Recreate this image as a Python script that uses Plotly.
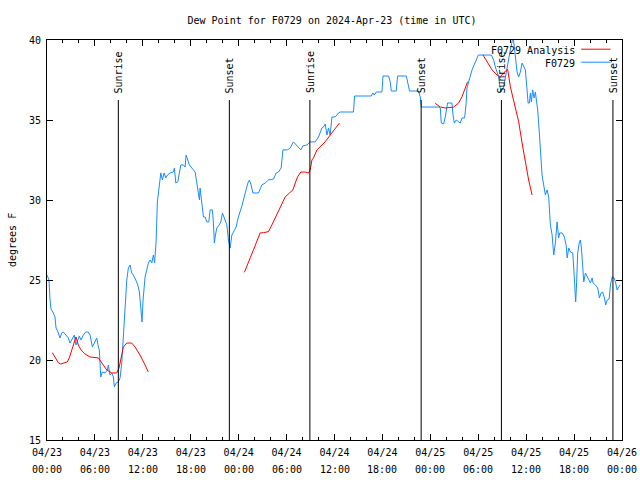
import pandas as pd
import plotly.graph_objects as go

START = pd.Timestamp("2024-04-23 00:00")

# F0729 observations: hours since 04/23 00:00 UTC, dew point (F)
obs_hours = [0.0, 0.25, 0.38, 0.5, 0.79, 1.0, 1.13, 1.38, 1.63, 1.84, 2.04, 2.34, 2.67, 2.88, 3.1, 3.42, 3.63, 3.85,
             4.05, 4.26, 4.55, 4.85, 5.18, 5.39, 5.68, 5.93, 6.23, 6.43, 6.55, 6.73, 6.93, 7.27, 7.56, 7.68, 7.89, 8.11,
             8.31, 8.43, 8.65, 8.93, 9.15, 9.36, 9.56, 9.77, 9.99, 10.19, 10.4, 10.61, 10.81, 11.12, 11.37, 11.57, 11.78,
             11.9, 12.03, 12.28, 12.49, 12.69, 12.91, 13.12, 13.32, 13.47, 13.66, 13.82, 14.04, 14.25, 14.45, 14.66,
             14.87, 15.08, 15.41, 15.83, 15.95, 16.13, 16.38, 16.75, 17.08, 17.29, 17.42, 17.58, 17.83, 18.13, 18.55,
             18.76, 18.96, 19.09, 19.17, 19.3, 19.46, 19.59, 19.8, 20.01, 20.26, 20.43, 20.71, 20.84, 20.96, 21.09,
             21.27, 21.55, 21.77, 21.97, 22.18, 22.34, 22.52, 22.72, 22.93, 23.15, 23.43, 23.68, 23.93, 24.19, 24.44,
             24.69, 24.94, 25.15, 25.35, 25.56, 25.78, 26.07, 26.48, 26.9, 27.32, 27.73, 28.36, 28.7, 28.98, 29.32,
             29.54, 30.11, 30.45, 30.86, 31.2, 31.49, 31.79, 32.04, 32.54, 32.96, 33.58, 34.0, 34.42, 34.62, 34.84,
             35.05, 35.25, 35.46, 35.68, 36.09, 36.5, 36.72, 38.38, 38.51, 40.6, 40.81, 40.98, 41.23, 41.94, 42.07,
             42.77, 42.98, 43.11, 43.73, 43.9, 44.99, 45.15, 45.4, 46.53, 46.74, 46.87, 49.04, 49.25, 49.37, 49.66,
             49.87, 50.16, 50.71, 50.84, 51.0, 51.25, 51.54, 51.75, 51.97, 52.29, 52.47, 52.59, 53.22, 53.63, 54.01,
             55.64, 55.93, 56.14, 56.35, 56.55, 56.68, 56.86, 57.18, 57.39, 57.61, 57.81, 58.02, 58.23, 58.36, 58.56,
             58.73, 58.86, 59.06, 59.27, 59.49, 59.69, 59.9, 60.11, 60.24, 60.4, 60.53, 60.65, 60.81, 60.99, 61.15,
             61.28, 61.44, 61.65, 61.87, 61.99, 62.19, 62.41, 62.62, 62.82, 63.03, 63.25, 63.45, 63.66, 63.87, 64.07,
             64.2, 64.5, 64.79, 65.0, 65.13, 65.33, 65.54, 65.83, 65.95, 66.08, 66.2, 66.29, 66.45, 66.67, 66.79,
             66.92, 67.08, 67.21, 67.42, 67.63, 67.83, 68.05, 68.26, 68.38, 68.67, 68.96, 69.17, 69.38, 69.58, 69.8,
             69.96, 70.14, 70.39, 70.55, 70.77, 71.02, 71.18, 71.39, 71.59, 71.77]
obs_dewpt = [25.31, 25.0, 23.75, 23.19, 22.94, 22.69, 22.0, 21.75, 21.38, 21.69, 21.75, 21.56, 21.38, 21.06, 21.31,
             21.56, 20.94, 21.25, 21.5, 21.25, 21.56, 21.75, 21.75, 21.56, 20.81, 21.06, 21.38, 20.81, 20.63, 18.94,
             19.25, 19.19, 19.38, 19.69, 19.06, 19.19, 18.94, 18.31, 18.56, 18.63, 18.88, 19.81, 21.69, 23.75, 25.0,
             25.75, 25.94, 25.44, 25.31, 25.0, 24.69, 24.25, 23.13, 22.38, 23.75, 25.19, 25.63, 26.06, 26.25, 26.06,
             26.56, 26.06, 27.38, 29.88, 30.81, 31.69, 31.25, 31.69, 31.38, 31.56, 31.69, 31.75, 32.0, 31.06, 31.13,
             32.19, 32.19, 32.06, 32.81, 32.5, 32.19, 32.0, 31.75, 31.06, 30.31, 30.0, 30.75, 30.31, 29.5, 28.94,
             28.94, 28.63, 28.63, 29.38, 29.38, 28.56, 27.31, 27.81, 28.25, 28.44, 28.63, 29.19, 28.94, 28.63, 28.44,
             27.5, 27.0, 27.81, 28.13, 28.31, 28.88, 29.25, 29.69, 30.19, 30.75, 31.06, 31.25, 30.94, 30.44, 30.44,
             30.44, 30.94, 31.06, 31.25, 31.31, 31.69, 31.75, 32.0, 33.13, 33.13, 33.25, 33.63, 33.44, 33.31, 33.13,
             33.38, 33.44, 33.63, 33.63, 33.94, 34.5, 34.56, 34.75, 34.06, 34.5, 34.06, 35.19, 35.19, 35.44, 35.5,
             35.5, 36.5, 36.5, 36.69, 36.56, 36.75, 36.75, 37.75, 37.75, 37.38, 36.81, 36.81, 37.75, 37.75, 37.31,
             36.81, 36.81, 36.44, 35.81, 35.81, 35.75, 34.81, 34.75, 35.19, 36.06, 36.06, 35.31, 34.81, 35.0, 34.88,
             34.81, 35.13, 35.13, 35.94, 37.0, 38.13, 38.56, 39.06, 39.06, 38.75, 38.31, 38.0, 37.69, 37.19, 36.75,
             37.06, 37.69, 38.25, 38.75, 39.38, 39.88, 40.25, 39.38, 38.75, 38.0, 37.69, 38.0, 38.56, 38.31, 38.13,
             36.88, 36.06, 36.06, 36.69, 36.13, 36.88, 36.38, 36.75, 36.25, 35.63, 34.19, 32.69, 31.56, 30.94, 30.31,
             30.63, 30.19, 28.44, 27.81, 26.56, 27.31, 28.63, 27.63, 27.94, 27.94, 27.69, 27.19, 26.38, 27.0, 26.75,
             26.69, 25.81, 24.5, 23.63, 24.5, 26.69, 27.38, 27.5, 27.0, 25.81, 24.88, 25.44, 25.19, 25.0, 24.81,
             25.13, 24.81, 24.69, 24.5, 23.88, 24.19, 24.25, 23.88, 23.44, 23.75, 23.81, 24.69, 25.19, 25.13, 24.88,
             24.38, 24.56, 24.69]

# F0729 Analysis (None separates runs)
ana_hours = [0.66, 1.0, 1.42, 1.72, 2.04, 2.54, 2.79, 3.1, 3.42, 3.63, 3.92, 4.26, 4.76, 5.39, 6.43, 6.85, 7.48,
             8.11, 8.73, 9.02, 9.27, 9.56, 9.99, 10.61, 11.03, 11.65, 12.28, 12.69, None,
             24.72, 25.03, 25.44, 25.85, 26.28, 26.69, 27.11, 27.73, 28.16, 28.57, 28.98, 29.41, 29.82, 30.36, 30.79,
             31.08, 31.37, 31.79, 32.33, 32.74, 32.96, 33.17, 33.37, 33.8, 34.21, 34.84, 35.46, 36.09, 36.63, None,
             48.62, 49.25, 49.87, 50.5, 50.91, 51.54, 51.97, 52.38, 52.67, None,
             54.6, 55.1, 55.73, 56.35, 56.77, 57.18, 57.68, 58.02, 58.65, 59.06, 59.49, 59.9, 60.31, 60.74]
ana_dewpt = [20.46, 20.19, 19.83, 19.75, 19.81, 19.88, 20.13, 20.63, 21.13, 21.44, 20.94, 20.63, 20.38, 20.19, 20.13,
             19.81, 19.38, 19.19, 19.19, 19.5, 20.19, 20.81, 21.06, 21.06, 20.81, 20.31, 19.69, 19.25, None,
             25.48, 25.83, 26.38, 26.88, 27.39, 27.94, 27.96, 28.02, 28.44, 28.88, 29.27, 29.81, 30.19, 30.44, 30.63,
             31.06, 31.44, 31.75, 31.75, 31.69, 31.88, 32.5, 32.63, 33.13, 33.33, 33.64, 34.06, 34.44, 34.81, None,
             36.04, 35.81, 35.75, 35.77, 35.81, 36.06, 36.46, 37.0, 37.39, None,
             39.06, 38.64, 38.13, 37.81, 37.71, 37.94, 38.17, 37.08, 35.83, 34.89, 33.56, 32.31, 31.25, 30.31]

# Sun events
event_times = ["2024-04-23 08:56", "2024-04-23 22:50", "2024-04-24 08:55",
               "2024-04-24 22:51", "2024-04-25 08:54", "2024-04-25 22:52"]
event_labels = ["Sunrise", "Sunset", "Sunrise", "Sunset", "Sunrise", "Sunset"]

# Axis ticks
x_tick_hours = [0, 6, 12, 18, 24, 30, 36, 42, 48, 54, 60, 66, 72]
x_tick_dates = ["04/23", "04/23", "04/23", "04/23", "04/24", "04/24", "04/24", "04/24",
                "04/25", "04/25", "04/25", "04/25", "04/26"]
x_tick_times = ["00:00", "06:00", "12:00", "18:00", "00:00", "06:00", "12:00", "18:00",
                "00:00", "06:00", "12:00", "18:00", "00:00"]
y_ticks = [15, 20, 25, 30, 35, 40]

BLUE = "#1a8cff"
RED = "#ff0000"
FONT = "DejaVu Sans Mono"

W, H = 640, 480
ML, MR, MT, MB = 47, 18, 40, 40


def to_time(hs):
    return [None if h is None else START + pd.Timedelta(hours=h) for h in hs]


fig = go.Figure()
fig.add_trace(go.Scatter(x=to_time(obs_hours), y=obs_dewpt, mode="lines",
                         line=dict(color=BLUE, width=1), showlegend=False, name="F0729"))
fig.add_trace(go.Scatter(x=to_time(ana_hours), y=ana_dewpt, mode="lines", connectgaps=False,
                         line=dict(color=RED, width=1), showlegend=False, name="F0729 Analysis"))

line_top = 0.85
for t, lab in zip(event_times, event_labels):
    fig.add_shape(type="line", xref="x", yref="paper", x0=t, x1=t, y0=0, y1=line_top,
                  line=dict(color="black", width=1))
    fig.add_annotation(x=t, xref="x", y=0.862, yref="paper", text=lab, textangle=-90,
                       showarrow=False, xanchor="center", yanchor="bottom",
                       font=dict(family=FONT, size=10, color="black"))

# second line of the x tick labels (times)
for h, tt in zip(to_time(x_tick_hours), x_tick_times):
    fig.add_annotation(x=h, xref="x", y=0, yref="paper", yshift=-29, text=tt, showarrow=False,
                       xanchor="center", yanchor="middle", font=dict(family=FONT, size=10, color="black"))

# legend (gnuplot style: text then sample)
leg = [("F0729 Analysis", RED, 0.975), ("F0729", BLUE, 0.9425)]
for txt, col, yy in leg:
    fig.add_annotation(x=0.922, xref="paper", y=yy, yref="paper", text=txt, showarrow=False,
                       xanchor="right", yanchor="middle", font=dict(family=FONT, size=10, color="black"))
    fig.add_shape(type="line", xref="paper", yref="paper", x0=0.929, x1=0.98, y0=yy + 0.002, y1=yy + 0.002,
                  line=dict(color=col, width=1))

fig.add_annotation(x=0, xref="paper", y=0.5, yref="paper", xshift=-35, text="degrees F", textangle=-90,
                   showarrow=False, xanchor="center", yanchor="middle",
                   font=dict(family=FONT, size=10, color="black"))

fig.update_layout(
    width=W, height=H,
    margin=dict(l=ML, r=MR, t=MT, b=MB, autoexpand=False),
    paper_bgcolor="white", plot_bgcolor="white",
    font=dict(family=FONT, size=10, color="black"),
    title=dict(text="Dew Point for F0729 on 2024-Apr-23 (time in UTC)", x=332 / W, y=1 - 20 / H,
               xref="container", yref="container", xanchor="center", yanchor="middle",
               font=dict(family=FONT, size=10, color="black")),
    xaxis=dict(type="date", range=[START, START + pd.Timedelta(hours=72)],
               tickmode="array", tickvals=to_time(x_tick_hours), ticktext=x_tick_dates,
               ticks="inside", ticklen=6, tickcolor="black", tickwidth=1, ticklabelstandoff=3,
               ticklabeloverflow="allow",
               minor=dict(ticks="inside", ticklen=3, tickcolor="black", tickmode="linear",
                          tick0="2024-04-23", dtick=2 * 3600 * 1000, showgrid=False),
               showline=True, linecolor="black", linewidth=1, mirror="allticks",
               showgrid=False, zeroline=False, tickangle=0, automargin=False,
               tickfont=dict(family=FONT, size=10, color="black")),
    yaxis=dict(range=[15, 40], tickmode="array", tickvals=y_ticks, ticktext=[str(v) for v in y_ticks],
               ticks="inside", ticklen=6, tickcolor="black", tickwidth=1, ticklabelstandoff=3,
               showline=True, linecolor="black", linewidth=1, mirror="allticks",
               showgrid=False, zeroline=False, automargin=False,
               tickfont=dict(family=FONT, size=10, color="black")),
)

# remove the page's default body margin so the 640x480 figure fills the window exactly
fig.write_html("out.html", config={"displayModeBar": False},
               post_script="document.body.style.margin='0';document.body.style.overflow='hidden';")
